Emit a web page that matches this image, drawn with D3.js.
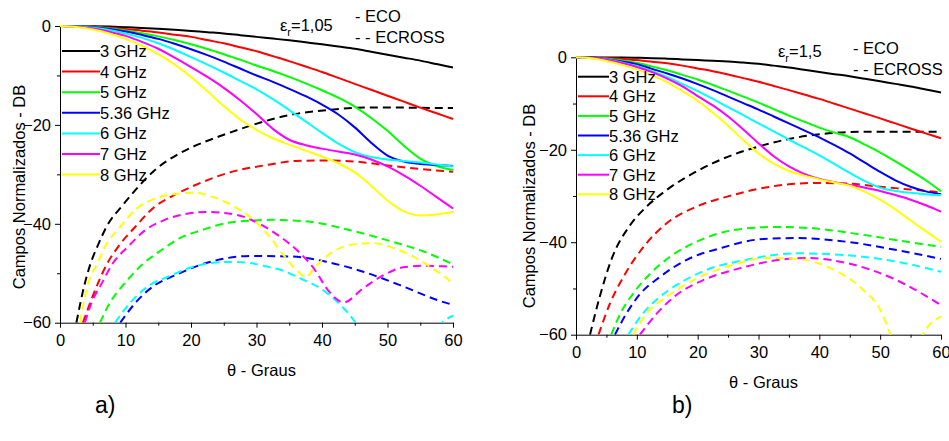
<html>
<head>
  <script src="https://d3js.org/d3.v7.min.js"></script>
  <style>
    body { margin: 0; background: #fff; }
    svg { font-family: Arial, "Liberation Sans", sans-serif; }
    .axis path, .axis line { stroke: #000; stroke-width: 1px; }
    .axis text { font-size: 16.5px; fill: #000; }
  </style>
</head>
<body>
<script>
// legend labels and colours
var freqs = ['3 GHz', '4 GHz', '5 GHz', '5.36 GHz', '6 GHz', '7 GHz', '8 GHz'];
var colors = ['#000000', '#ff0000', '#00ff00', '#0000ff', '#00ffff', '#ff00ff', '#ffff00'];

var xTicks = [0, 10, 20, 30, 40, 50, 60];
var yTicks = [0, -20, -40, -60];

// theta grid for the ECO (co-polar) curves, 2.5 deg step
var thetaCo = d3.range(0, 60.1, 2.5);

// a) er = 1,05  -  ECO
var coA3  = [0,-0.01,-0.05,-0.12,-0.25,-0.38,-0.55,-0.75,-1.0,-1.25,-1.5,-1.85,-2.2,-2.55,-2.9,-3.3,-3.7,-4.15,-4.6,-5.2,-5.8,-6.4,-7.0,-7.7,-8.4];
var coA4  = [0,-0.04,-0.15,-0.35,-0.6,-0.95,-1.3,-1.75,-2.2,-2.85,-3.5,-4.3,-5.1,-6.1,-7.1,-8.2,-9.3,-10.5,-11.7,-12.9,-14.1,-15.3,-16.5,-17.65,-18.8];
var coA5  = [0,-0.05,-0.2,-0.5,-0.9,-1.45,-2.1,-2.85,-3.7,-4.65,-5.7,-6.8,-8.0,-9.1,-10.3,-11.6,-13.0,-14.5,-16.3,-18.6,-21.2,-24.2,-26.8,-28.3,-29.1];
var coA536 = [0,-0.06,-0.25,-0.6,-1.1,-1.8,-2.6,-3.6,-4.7,-5.9,-7.2,-8.6,-10.0,-11.3,-12.7,-14.2,-15.9,-17.9,-20.5,-23.6,-26.2,-27.4,-27.9,-28.1,-28.3];
var coA6  = [0,-0.09,-0.35,-0.8,-1.5,-2.4,-3.5,-4.8,-6.3,-7.8,-9.4,-11.1,-12.8,-14.8,-17.0,-19.3,-21.6,-23.8,-25.5,-26.5,-27.0,-27.3,-27.6,-28.0,-28.4];
var coA7  = [0,-0.13,-0.5,-1.15,-2.0,-3.2,-4.6,-6.4,-8.3,-10.3,-12.5,-15.0,-17.8,-20.8,-23.0,-24.1,-24.8,-25.4,-26.0,-27.0,-28.4,-30.2,-32.3,-34.6,-36.9];
var coA8  = [0,-0.18,-0.7,-1.5,-2.6,-4.0,-5.7,-7.8,-10.3,-13.2,-16.2,-18.9,-21.0,-22.7,-24.0,-25.2,-26.4,-27.8,-29.6,-32.3,-35.3,-37.5,-38.3,-38.1,-37.6];

// a) er = 1,05  -  ECROSS  [theta, dB]
var crA3 = [[2.5,-60],[3.8,-52],[4.6,-48.3],[5.8,-44.3],[7.1,-40.6],[9.4,-36.5],[11.5,-33.2],[14.5,-29.1],[17.8,-26.1],[20,-24.6],[25,-22],[28.5,-20.4],[35,-18],[40.7,-17],[46.8,-16.5],[52,-16.5],[58.5,-16.6],[60,-16.6]];
var crA4 = [[3.5,-60],[5.8,-52],[7.1,-48.3],[8.9,-44.6],[11.5,-40.6],[14.5,-36.5],[17,-34.5],[20.6,-32.2],[26.2,-29.5],[31.6,-28.1],[36,-27.3],[40.2,-27.2],[45,-27.4],[50,-28.2],[55,-28.9],[60,-29.5]];
var crA5 = [[6.1,-60],[7.6,-56],[9.9,-52],[12.5,-48.3],[15.5,-45.3],[18.3,-42.9],[21.6,-41.3],[25.2,-39.9],[28.7,-39.4],[32.6,-39.2],[38.2,-39.6],[44.3,-41.3],[49.9,-43.3],[55.5,-45.6],[60,-48.2]];
var crA536 = [[9.2,-60],[11.7,-55.7],[14.5,-52.4],[17.6,-50.4],[20.6,-48.7],[24.1,-47.3],[29.3,-46.5],[35.1,-46.6],[40.7,-47.7],[46.3,-49.7],[51.9,-52.4],[58,-55.6],[60,-56.4]];
var crA6 = [[8.4,-60],[10.9,-55.7],[13.7,-52.4],[16.5,-50.7],[19.6,-49],[22.6,-48],[25.7,-47.7],[29.3,-48],[31,-48.5],[34.1,-49.5],[36.6,-51],[39.7,-53],[42.5,-56],[45,-59.8],[46.5,-63],[56.5,-63],[58.3,-60],[60,-58.6]];
var crA7 = [[3.8,-60],[4.8,-56],[6.4,-52],[7.9,-48.3],[10.4,-44.6],[13,-41.3],[16,-39.2],[19.6,-37.9],[22.1,-37.6],[25.7,-37.9],[28.7,-38.9],[30,-39.7],[33.6,-42.6],[36.4,-45.6],[38.9,-49.3],[40.9,-53.4],[43.3,-55.9],[46.3,-53],[49.4,-50.4],[52.4,-48.8],[55.5,-48.5],[58.5,-48.6],[60,-48.7]];
var crA8 = [[3.05,-60],[4.3,-52],[5.6,-48.3],[6.9,-44.6],[9.2,-40.6],[11.7,-36.9],[14.5,-34.9],[18,-33.9],[20.6,-33.7],[23.2,-34.5],[26.2,-36.2],[29,-38.6],[32,-42.6],[34.1,-46.3],[36.6,-50],[37.6,-50.8],[38.6,-49.3],[41.7,-45.6],[45.3,-44.1],[47.8,-43.9],[50.9,-44.9],[53.9,-46.6],[56.5,-48.7],[59.8,-52],[60,-52.3]];

// b) er = 1,5  -  ECO
var coB3  = [0,-0.01,-0.03,-0.06,-0.1,-0.18,-0.3,-0.45,-0.6,-0.75,-0.9,-1.15,-1.4,-1.8,-2.2,-2.7,-3.2,-3.65,-4.1,-4.65,-5.2,-5.75,-6.3,-6.95,-7.6];
var coB4  = [0,-0.04,-0.15,-0.35,-0.6,-0.95,-1.3,-1.8,-2.4,-3.0,-3.7,-4.5,-5.3,-6.2,-7.1,-8.05,-9.0,-10.05,-11.1,-12.15,-13.2,-14.3,-15.4,-16.45,-17.5];
var coB5  = [0,-0.08,-0.3,-0.7,-1.2,-2.0,-2.8,-3.8,-4.8,-6.0,-7.2,-8.5,-9.8,-11.2,-12.6,-13.9,-15.2,-16.3,-17.3,-18.9,-20.6,-22.5,-24.5,-26.6,-29.0];
var coB536 = [0,-0.1,-0.4,-0.9,-1.5,-2.5,-3.5,-4.6,-5.8,-7.1,-8.5,-9.9,-11.3,-12.8,-14.3,-15.8,-17.3,-19.0,-20.8,-22.8,-24.8,-26.6,-28.0,-29.0,-29.6];
var coB6  = [0,-0.13,-0.5,-1.1,-1.9,-3.0,-4.3,-5.8,-7.3,-9.0,-10.8,-12.5,-14.3,-16.0,-17.8,-19.5,-21.2,-23.1,-25.0,-26.8,-28.2,-28.9,-29.3,-29.6,-29.8];
var coB7  = [0,-0.15,-0.55,-1.25,-2.1,-3.2,-4.6,-6.3,-8.4,-10.4,-12.8,-15.6,-18.6,-21.4,-23.6,-25.2,-26.3,-27.0,-27.6,-28.2,-28.9,-29.8,-30.8,-32.0,-33.4];
var coB8  = [0,-0.2,-0.8,-1.6,-2.6,-3.9,-5.4,-7.3,-9.4,-12.0,-14.8,-17.9,-20.8,-23.0,-24.6,-25.6,-26.4,-27.1,-27.8,-29.1,-30.8,-32.9,-35.3,-37.6,-39.9];

// b) er = 1,5  -  ECROSS  [theta, dB]
var crB3 = [[2.3,-60],[3.9,-51.8],[5.8,-43.8],[8.9,-36.3],[11.6,-32.3],[14.9,-28.7],[19.8,-24.7],[22.5,-22.9],[30.8,-19],[39,-16.8],[47.2,-16.1],[58.2,-16.1],[60,-16.1]];
var crB4 = [[3.7,-60],[5.6,-53.2],[7.8,-47.5],[11.6,-40.2],[14.9,-35.9],[19.8,-32.3],[25.8,-29.8],[31.9,-28],[39,-27.2],[44.5,-27.3],[50,-28],[55,-28.6],[60,-29.2]];
var crB5 = [[5.8,-60],[7.3,-55.4],[9.4,-51.1],[12.2,-46.8],[15.5,-43.1],[19.8,-39.9],[25.8,-37.4],[32.4,-36.7],[39,-37],[47.2,-38.4],[54.4,-39.9],[60,-41]];
var crB536 = [[6.4,-60],[8.3,-55.4],[10.4,-51.4],[13.8,-47.5],[18.2,-43.8],[23.7,-41.3],[30.8,-39.3],[36.3,-39.1],[44.5,-39.9],[52.7,-41.7],[60,-43.6]];
var crB6 = [[8.6,-60],[11,-55.4],[13.8,-51.8],[17.1,-48.8],[21.4,-46],[28,-43.8],[36.3,-42.4],[44.5,-42.8],[52.7,-44.2],[60,-46.4]];
var crB7 = [[10.5,-60],[13.3,-55.4],[16.5,-51.4],[20.9,-48.2],[27,-45.6],[33.5,-43.8],[37.9,-43.4],[44.5,-44.5],[52.7,-48.2],[60,-53.6]];
var crB8 = [[9.4,-60],[11.6,-55.4],[14.9,-51.8],[19.3,-48.2],[24.8,-45.3],[31.9,-43.4],[36.3,-43.6],[41.8,-45.6],[47.2,-50.3],[50,-54.6],[51.6,-59.6],[52.5,-63],[56,-63],[57,-60],[60,-56.1]];

var width = 949, height = 441;
var svg = d3.select('body').append('svg')
    .attr('width', width)
    .attr('height', height);

function drawPanel(p) {
  var x = d3.scaleLinear().domain([0, 60]).range([p.left, p.right]);
  var y = d3.scaleLinear().domain([-60, 0]).range([p.bottom, p.top]);
  var g = svg.append('g');

  g.append('clipPath').attr('id', p.id + '_clip')
    .append('rect')
    .attr('x', p.left).attr('y', p.top - 3)
    .attr('width', p.right - p.left + 2).attr('height', p.bottom - p.top + 3);

  // minor ticks
  g.append('g').attr('class', 'axis')
    .attr('transform', 'translate(0,' + p.bottom + ')')
    .call(d3.axisBottom(x).tickValues(d3.range(5, 60, 10)).tickSize(3).tickFormat(''))
    .select('.domain').remove();
  g.append('g').attr('class', 'axis')
    .attr('transform', 'translate(' + p.left + ',0)')
    .call(d3.axisLeft(y).tickValues([-10, -30, -50]).tickSize(3).tickFormat(''))
    .select('.domain').remove();

  g.append('g').attr('class', 'axis')
    .attr('transform', 'translate(0,' + p.bottom + ')')
    .call(d3.axisBottom(x).tickValues(xTicks).tickSize(5).tickSizeOuter(0).tickPadding(7));
  g.append('g').attr('class', 'axis')
    .attr('transform', 'translate(' + p.left + ',0)')
    .call(d3.axisLeft(y).tickValues(yTicks).tickSize(5).tickSizeOuter(0).tickPadding(4)
      .tickFormat(d3.format('d')));

  var plot = g.append('g').attr('clip-path', 'url(#' + p.id + '_clip)');

  var line = d3.line()
    .x(function(d) { return x(d[0]); })
    .y(function(d) { return y(d[1]); })
    .curve(d3.curveMonotoneX);

  p.cross.forEach(function(s, i) {
    plot.append('path')
      .attr('d', line(s))
      .attr('fill', 'none')
      .attr('stroke', colors[i])
      .attr('stroke-width', 2)
      .attr('stroke-dasharray', '8,5');
  });
  p.co.forEach(function(s, i) {
    var pts = thetaCo.map(function(t, k) { return [t, s[k]]; });
    plot.append('path')
      .attr('d', line(pts))
      .attr('fill', 'none')
      .attr('stroke', colors[i])
      .attr('stroke-width', 2);
  });

  // legend
  freqs.forEach(function(f, i) {
    var ly = p.legTop + i * p.legStep;
    g.append('line')
      .attr('x1', p.left + 2).attr('x2', p.legX)
      .attr('y1', ly).attr('y2', ly)
      .attr('stroke', colors[i]).attr('stroke-width', 2);
    g.append('text')
      .attr('x', p.legX).attr('y', ly + 6)
      .attr('font-size', '16.5px')
      .text(f);
  });

  var eps = g.append('text').attr('x', p.epsX).attr('y', p.epsY).attr('font-size', '16.5px');
  eps.append('tspan').text('ε');
  eps.append('tspan').attr('font-size', '11px').attr('dy', 5).text('r');
  eps.append('tspan').attr('dy', -5).text('=' + p.eps);

  g.append('text').attr('x', p.keyX).attr('y', p.keyY).attr('font-size', '16.5px').text('- ECO');
  g.append('text').attr('x', p.keyX).attr('y', p.keyY + 20.5).attr('font-size', '16.5px').text('- - ECROSS');

  g.append('text')
    .attr('transform', 'translate(' + p.yLabX + ',' + p.yLabY + ') rotate(-90)')
    .attr('text-anchor', 'middle')
    .attr('font-size', '16.5px')
    .text('Campos Normalizados - DB');
  g.append('text')
    .attr('x', (p.left + p.right) / 2 + 5).attr('y', p.xLabY)
    .attr('text-anchor', 'middle')
    .attr('font-size', '16.5px')
    .text('θ - Graus');
  g.append('text')
    .attr('x', p.tagX).attr('y', 413)
    .attr('font-size', '23px')
    .text(p.tag);
}

drawPanel({
  id: 'a', left: 60, right: 453, top: 26, bottom: 322.7,
  co: [coA3, coA4, coA5, coA536, coA6, coA7, coA8],
  cross: [crA3, crA4, crA5, crA536, crA6, crA7, crA8],
  legTop: 51, legStep: 20.6, legX: 100,
  eps: '1,05', epsX: 280, epsY: 30.5,
  keyX: 355, keyY: 22,
  yLabX: 25, yLabY: 187, xLabY: 376,
  tag: 'a)', tagX: 95
});

drawPanel({
  id: 'b', left: 576, right: 941, top: 57.3, bottom: 334.7,
  co: [coB3, coB4, coB5, coB536, coB6, coB7, coB8],
  cross: [crB3, crB4, crB5, crB536, crB6, crB7, crB8],
  legTop: 76.7, legStep: 19.6, legX: 609,
  eps: '1,5', epsX: 778, epsY: 56.7,
  keyX: 853, keyY: 54.3,
  yLabX: 535, yLabY: 206, xLabY: 388,
  tag: 'b)', tagX: 672
});
</script>
</body>
</html>
